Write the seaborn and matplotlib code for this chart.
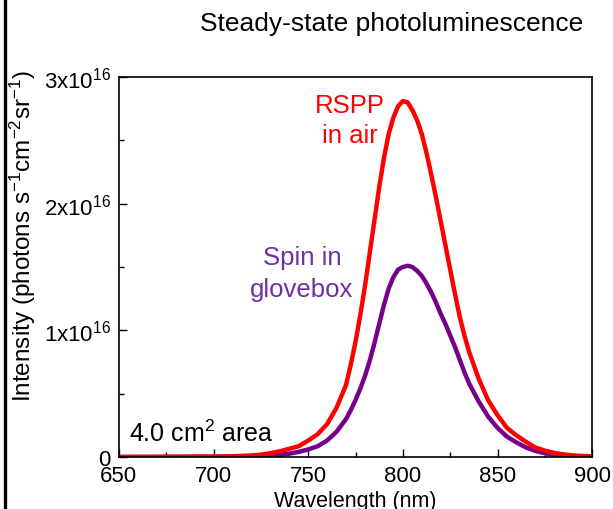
import numpy as np
import pandas as pd
import seaborn as sns
import matplotlib.pyplot as plt
from matplotlib.lines import Line2D

# wavelength grid (nm) and intensities in units of 1e16 photons s-1 cm-2 sr-1
wavelength = [650, 675, 700, 710, 720, 725, 730, 735, 740, 745, 750, 755, 760, 765,
              770, 772.5, 775, 777.5, 780, 782.5, 785, 787.5, 790, 792.5, 795, 797.5,
              800, 802.5, 805, 807.5, 810, 812.5, 815, 817.5, 820, 822.5, 825, 827.5,
              830, 832.5, 835, 840, 845, 850, 855, 860, 865, 870, 875, 880, 885, 890,
              895, 900]
rspp_air = [0.0, 0.001, 0.003, 0.006, 0.012, 0.018, 0.03, 0.045, 0.065, 0.085, 0.13,
            0.18, 0.26, 0.39, 0.57, 0.73, 0.91, 1.12, 1.35, 1.61, 1.87, 2.13, 2.36,
            2.55, 2.68, 2.77, 2.81, 2.80, 2.74, 2.66, 2.55, 2.40, 2.23, 2.05, 1.86,
            1.67, 1.48, 1.29, 1.11, 0.96, 0.83, 0.62, 0.45, 0.33, 0.23, 0.17, 0.12,
            0.075, 0.05, 0.032, 0.02, 0.012, 0.008, 0.005]
spin_glovebox = [0.0, 0.001, 0.002, 0.004, 0.006, 0.009, 0.012, 0.018, 0.026, 0.04,
                 0.06, 0.085, 0.13, 0.2, 0.3, 0.37, 0.45, 0.54, 0.64, 0.76, 0.9, 1.05,
                 1.2, 1.33, 1.42, 1.48, 1.5, 1.51, 1.5, 1.47, 1.43, 1.37, 1.3, 1.22,
                 1.13, 1.05, 0.96, 0.87, 0.77, 0.67, 0.58, 0.44, 0.32, 0.23, 0.16,
                 0.115, 0.075, 0.048, 0.03, 0.018, 0.011, 0.007, 0.005, 0.003]

ytick_vals = [0, 1, 2, 3]
ytick_labels = ['0', '1x10$\\mathregular{^{16}}$', '2x10$\\mathregular{^{16}}$',
                '3x10$\\mathregular{^{16}}$']
xtick_vals = [650, 700, 750, 800, 850, 900]

df = pd.DataFrame({'wl': wavelength, 'rspp': rspp_air, 'spin': spin_glovebox})

sns.set_style('white')
plt.rcParams['font.family'] = ['Liberation Sans', 'DejaVu Sans']
plt.rcParams['text.color'] = 'black'
plt.rcParams['axes.labelcolor'] = 'black'
plt.rcParams['xtick.color'] = 'black'
plt.rcParams['ytick.color'] = 'black'

fig = plt.figure(figsize=(6.13, 5.10), dpi=100)
ax = fig.add_axes([0.194, 0.102, 0.772, 0.745])

purple_line = '#76008a'
purple_text = '#7030a0'
sns.lineplot(data=df, x='wl', y='spin', color=purple_line, lw=3.2, ax=ax)
sns.lineplot(data=df, x='wl', y='rspp', color='#ff0000', lw=3.2, ax=ax)

ax.set_xlim(650, 900)
ax.set_ylim(0, 3)
ax.set_xticks(xtick_vals)
ax.set_xticks(np.arange(650, 901, 25), minor=True)
ax.set_yticks(ytick_vals)
ax.set_yticklabels(ytick_labels)
ax.set_yticks(np.arange(0, 3.01, 0.5), minor=True)
ax.tick_params(which='both', direction='in', top=False, right=False,
               bottom=True, left=True, color='black', labelsize=16, pad=6)
ax.tick_params(which='major', length=6, width=1)
ax.tick_params(which='minor', length=3.5, width=1)
for s in ax.spines.values():
    s.set_color('black')
    s.set_linewidth(1.2)

ax.set_xlabel('Wavelength (nm)', fontsize=15.5)
ax.set_ylabel('Intensity (photons s$\\mathregular{^{-1}}$cm$\\mathregular{^{-2}}$sr$\\mathregular{^{-1}}$)',
              fontsize=17.5)
ax.xaxis.set_label_coords(0.5, -0.086)
ax.yaxis.set_label_coords(-0.172, 0.585)

ax.text(772, 2.72, 'RSPP', color='#ff0000', fontsize=18.5, ha='center', va='baseline')
ax.text(772, 2.485, 'in air', color='#ff0000', fontsize=18.5, ha='center', va='baseline')
ax.text(746.7, 1.52, 'Spin in', color=purple_text, fontsize=18.5, ha='center', va='baseline')
ax.text(746.7, 1.27, 'glovebox', color=purple_text, fontsize=18.5, ha='center', va='baseline')
ax.text(655.3, 0.126, '4.0 cm$\\mathregular{^2}$ area', fontsize=18, ha='left', va='baseline')

fig.text(0.639, 0.94, 'Steady-state photoluminescence', fontsize=19, ha='center', va='baseline')

fig.add_artist(Line2D([5 / 613, 5 / 613], [0, 1], color='black', lw=2.4,
                      transform=fig.transFigure))

fig.savefig('out.png', dpi=100)
